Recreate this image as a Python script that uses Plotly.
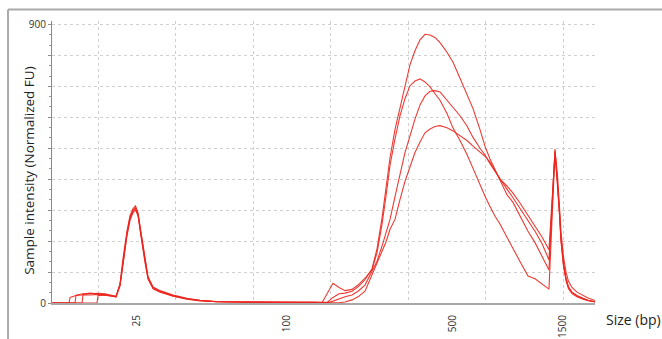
import plotly.graph_objects as go

# Migration position (a.u.) shared by all four electropherogram traces
position = [
    4.1, 5.87, 6.26, 6.39, 7.03, 7.16, 7.94, 8.06, 8.97, 9.87,
    10.0, 10.9, 11.81, 12.32, 12.84, 13.23, 13.74, 14.13, 14.52, 14.84,
    15.16, 15.55, 16.06, 16.45, 17.1, 18.0, 19.68, 21.48, 23.16, 25.35,
    29.61, 33.48, 38.0, 38.9, 39.55, 40.32, 41.1, 41.87, 42.77, 43.55,
    44.45, 45.35, 46.0, 46.65, 47.16, 47.68, 48.32, 48.97, 49.61, 50.26,
    50.9, 51.55, 52.19, 52.84, 53.48, 54.13, 55.03, 55.81, 56.71, 57.61,
    58.39, 59.29, 59.94, 60.58, 61.23, 61.87, 62.77, 63.55, 64.45, 65.48,
    66.39, 67.29, 68.19, 68.97, 69.29, 69.55, 69.74, 70.06, 70.39, 70.71,
    71.16, 71.81, 72.58, 73.23, 74.13,
]

# Normalized fluorescence for each sample
sample_1 = [
    0, 0, 0, 18, 22, 24, 26, 27, 26, 28,
    28, 26, 22, 20, 62, 145, 232, 282, 305, 314,
    290, 222, 135, 82, 50, 38, 24, 14, 8, 4,
    3, 2, 2, 1, 2, 18, 30, 32, 38, 52,
    75, 110, 175, 275, 378, 470, 560, 630, 702, 770,
    815, 850, 868, 866, 858, 841, 810, 778, 726, 673,
    628, 560, 506, 465, 432, 398, 350, 325, 280, 232,
    195, 150, 107, 497, 400, 295, 210, 130, 80, 52,
    35, 24, 15, 9, 4,
]
sample_2 = [
    0, 0, 0, 0, 0, 25, 28, 30, 30, 32,
    31, 30, 26, 22, 60, 140, 228, 278, 300, 308,
    288, 225, 138, 85, 52, 40, 26, 15, 9, 5,
    2, 3, 2, 1, 30, 64, 50, 40, 44, 58,
    80, 108, 162, 255, 345, 445, 530, 605, 660, 702,
    717, 724, 714, 698, 676, 655, 612, 565, 525, 480,
    435, 380, 345, 312, 280, 255, 215, 176, 134, 87,
    78, 62, 45, 488, 392, 285, 200, 120, 72, 46,
    30, 20, 12, 7, 3,
]
sample_3 = [
    0, 0, 0, 0, 0, 0, 0, 28, 32, 30,
    29, 28, 24, 21, 55, 130, 218, 268, 292, 300,
    282, 215, 128, 78, 46, 35, 22, 12, 7, 4,
    3, 2, 1, 1, 1, 6, 14, 20, 26, 38,
    58, 100, 135, 184, 227, 270, 344, 416, 486, 540,
    594, 640, 669, 684, 686, 682, 656, 632, 605, 572,
    535, 500, 478, 450, 425, 400, 368, 340, 306, 268,
    232, 192, 139, 492, 410, 310, 228, 150, 100, 70,
    50, 35, 24, 16, 8,
]
sample_4 = [
    0, 0, 0, 0, 0, 0, 0, 0, 0, 0,
    24, 25, 22, 20, 58, 135, 222, 272, 296, 304,
    285, 218, 130, 80, 48, 37, 23, 13, 8, 4,
    2, 2, 2, 1, 1, 1, 1, 3, 10, 20,
    38, 90, 125, 162, 197, 238, 270, 335, 393, 440,
    486, 520, 550, 562, 570, 573, 566, 556, 540, 525,
    507, 488, 474, 455, 428, 400, 378, 355, 323, 284,
    250, 213, 172, 484, 395, 290, 205, 125, 78, 50,
    34, 22, 14, 9, 4,
]
samples = [sample_1, sample_2, sample_3, sample_4]

# Size ladder positions and their labels
ladder_pos = [15.03, 34.39, 55.8, 70.0]
ladder_bp = ["25", "100", "500", "1500"]

y_ticks = [0, 100, 200, 300, 400, 500, 600, 700, 800, 900]
y_text = ["0", "", "", "", "", "", "", "", "", "900"]

FONT = "Open Sans"
RED = "rgb(236,38,30)"

fig = go.Figure()
for s in samples:
    fig.add_trace(go.Scatter(
        x=position, y=s, mode="lines",
        line=dict(color=RED, width=1.1),
        opacity=0.9, showlegend=False, hoverinfo="skip",
    ))

fig.update_layout(
    width=662, height=339,
    margin=dict(l=52, r=67, t=21, b=36, autoexpand=False),
    paper_bgcolor="white", plot_bgcolor="white",
    font=dict(family=FONT, color="#333"),
    xaxis=dict(
        range=[4.06, 74.13], automargin=False,
        tickmode="array", tickvals=ladder_pos, ticktext=ladder_bp,
        tickangle=-90, tickfont=dict(size=10, color="#333"),
        ticks="", ticklabelstandoff=6,
        showgrid=False, zeroline=False,
        showline=True, linecolor="#a8a8a8", linewidth=2,
        minor=dict(tick0=0, dtick=10, showgrid=True,
                   gridcolor="#cfcfcf", griddash="dot", gridwidth=1, ticks=""),
    ),
    yaxis=dict(
        range=[0, 911], automargin=False,
        tickmode="array", tickvals=y_ticks, ticktext=y_text,
        tickfont=dict(size=10, color="#333"),
        ticks="outside", ticklen=3, tickcolor="#888", tickwidth=1,
        showgrid=True, gridcolor="#cfcfcf", griddash="dot", gridwidth=1,
        zeroline=False,
        showline=True, linecolor="#8a8a8a", linewidth=1,
        minor=dict(tick0=0, dtick=100 / 3, ticks="outside", ticklen=2,
                   tickcolor="#999", showgrid=False),
    ),
    annotations=[
        dict(text="Sample intensity (Normalized FU)", xref="paper", yref="paper",
             x=-0.0424, y=0.472, xanchor="center", yanchor="middle",
             textangle=-90, showarrow=False,
             font=dict(size=13.5, color="#222", family=FONT)),
        dict(text="Size (bp)", xref="paper", yref="paper",
             x=1.016, y=-0.06, xanchor="left", yanchor="middle",
             showarrow=False, font=dict(size=14, color="#222", family=FONT)),
    ],
    shapes=[
        dict(type="line", xref="paper", yref="paper",
             x0=-0.081, x1=1.3, y0=1.0409, y1=1.0409,
             line=dict(color="#aaaaaa", width=2)),
        dict(type="line", xref="paper", yref="paper",
             x0=-0.081, x1=-0.081, y0=1.0409, y1=-0.3,
             line=dict(color="#aaaaaa", width=2)),
    ],
)

fig.write_html("out.html")
